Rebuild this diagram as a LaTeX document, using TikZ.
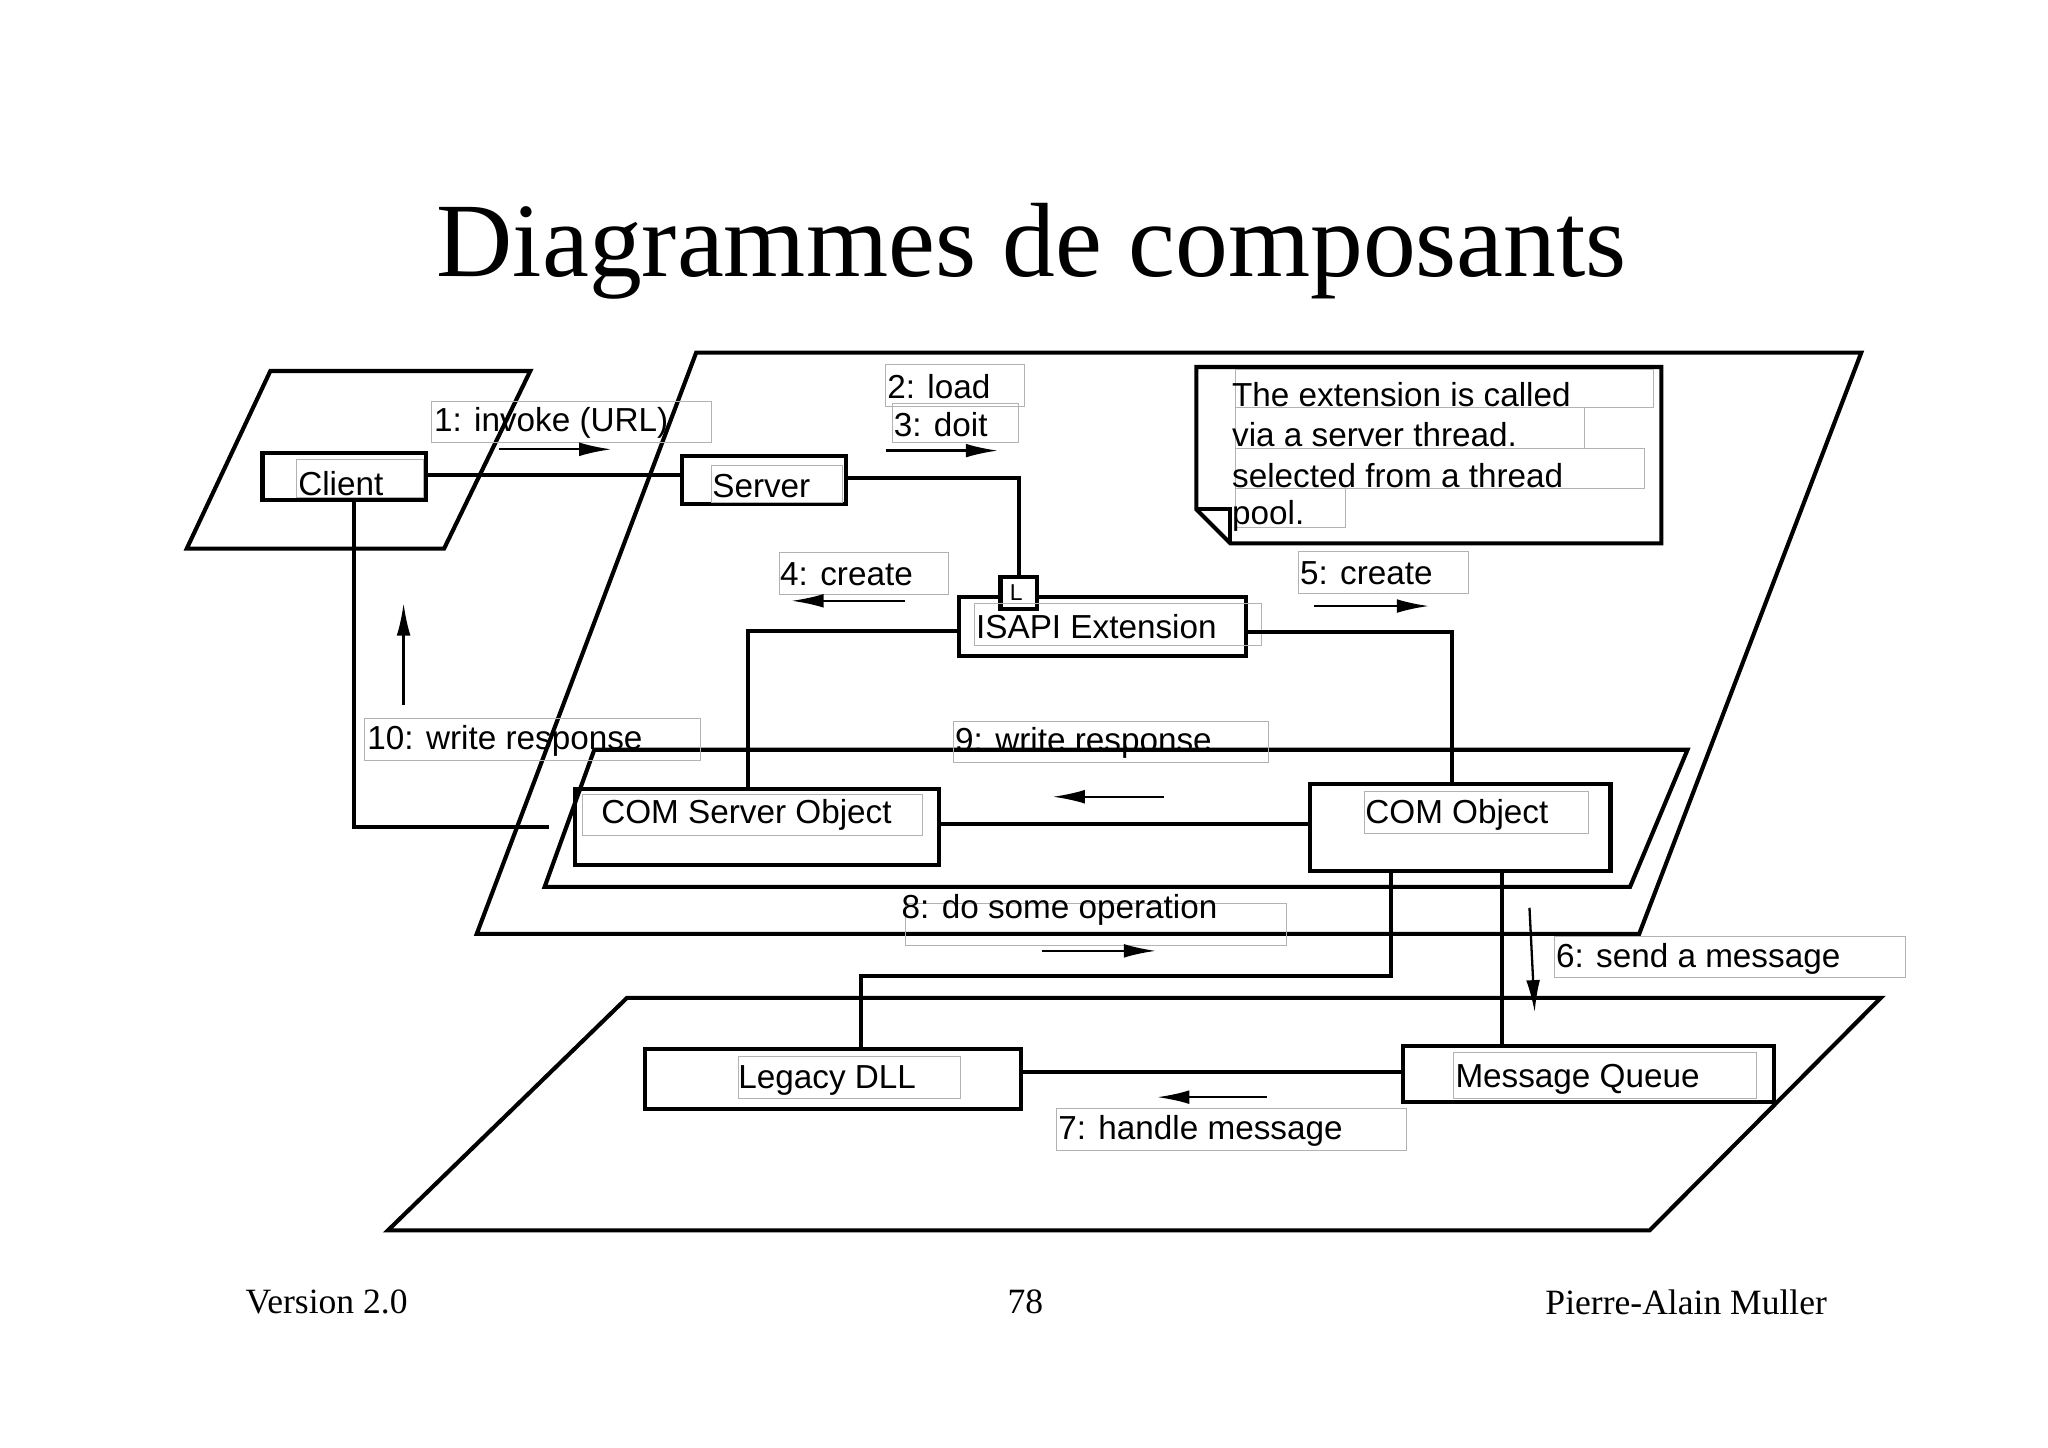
\documentclass[tikz,border=0pt]{standalone}
\usepackage{fontspec}
\setmainfont{Liberation Serif}
\newfontfamily\lab{Liberation Sans}
\usetikzlibrary{arrows.meta}
\begin{document}
\begin{tikzpicture}[x=0.02cm,y=-0.02cm,
 thick line/.style={line width=1.8pt,line join=miter},
 conn/.style={line width=1.8pt},
 gbox/.style={draw=black!30,line width=0.4pt},
 lt/.style={font=\lab\fontsize{14.5}{17}\selectfont,anchor=west,inner sep=0pt},
 arr/.style={line width=1pt,-{Latex[length=14pt,width=6pt]}}]
\useasboundingbox (0,0) rectangle (1568,1108);
\node[font=\fontsize{46}{52}\selectfont] (title) at (790,192) {Diagrammes de composants};
% packages
\draw[thick line] (207,284)--(406,284)--(340,420)--(143,420)--cycle;
\draw[thick line] (533,270)--(1425,270)--(1255,715)--(365,715)--cycle;
\draw[thick line] (455,574)--(1292,574)--(1248,679)--(417,679)--cycle;
\draw[thick line] (480,764)--(1440,764)--(1263,942)--(297,942)--cycle;
% note
\draw[thick line] (916,281)--(1272,281)--(1272,416)--(942,416)--(916,390)--cycle;
\draw[thick line] (916,390)--(942,390)--(942,416);
\draw[gbox] (946,283) rectangle (1266,312);
\draw[gbox] (946,312) rectangle (1213,343);
\draw[gbox] (946,343) rectangle (1259,374);
\draw[gbox] (946,374) rectangle (1030,404);
\node[lt] (n1) at (943,302) {The extension is called};
\node[lt] (n2) at (943,333) {via a server thread.};
\node[lt] (n3) at (943,364) {selected from a thread};
\node[lt] (n4) at (943,395) {pool.};
% component boxes
\draw[thick line] (201,347) rectangle (326,383);
\draw[thick line] (522,349) rectangle (648,386);
\draw[thick line] (734,457) rectangle (954,502);
\draw[thick line,fill=white] (766,442) rectangle (794,466);
\node[font=\lab\fontsize{10}{12}\selectfont] (L) at (778,454) {L};
\draw[thick line] (440,604) rectangle (719,662);
\draw[thick line] (1003,600) rectangle (1233,667);
\draw[thick line] (494,803) rectangle (782,849);
\draw[thick line] (1074,801) rectangle (1358,844);
\draw[gbox] (227,352) rectangle (324,381); \node[lt] (c) at (228,370) {Client};
\draw[gbox] (545,356) rectangle (645,385); \node[lt] (s) at (545,372) {Server};
\draw[gbox] (746,462) rectangle (966,494); \node[lt] (i) at (747,480) {ISAPI Extension};
\draw[gbox] (446,608) rectangle (706,640); \node[lt] (cs) at (460,624) {COM Server Object};
\draw[gbox] (1045,606) rectangle (1216,638); \node[lt] (co) at (1045,624) {COM Object};
\draw[gbox] (565,809) rectangle (735,841); \node[lt] (ld) at (565,827) {Legacy DLL};
\draw[gbox] (1113,806) rectangle (1345,841); \node[lt] (mq) at (1114,826) {Message Queue};
% connectors
\draw[conn] (326,364)--(522,364);
\draw[conn] (648,366)-|(780,442);
\draw[conn] (734,483)-|(573,604);
\draw[conn] (954,484)-|(1112,600);
\draw[conn] (271,383)|-(420,633);
\draw[conn] (719,631)--(1003,631);
\draw[conn] (1065,667)|-(659,747)--(659,803);
\draw[conn] (1150,667)--(1150,801);
\draw[conn] (782,821)--(1074,821);
% message labels
\draw[gbox] (330,307) rectangle (545,339); \node[lt] (m1) at (332,324) {1: invoke (URL)};
\draw[gbox] (678,279) rectangle (784,311); \node[lt] (m2) at (679,296) {2: load};
\draw[gbox] (683,309) rectangle (780,339); \node[lt] (m3) at (684,325) {3: doit};
\draw[gbox] (597,423) rectangle (726,455); \node[lt] (m4) at (597,440) {4: create};
\draw[gbox] (994,422) rectangle (1124,454); \node[lt] (m5) at (995,439) {5: create};
\draw[gbox] (279,550) rectangle (536,582); \node[lt] (m10) at (281,567) {10: write response};
\draw[gbox] (730,552) rectangle (971,584); \node[lt] (m9) at (731,569) {9: write response};
\draw[gbox] (693,692) rectangle (985,724); \node[lt] (m8) at (690,697) {8: do some operation};
\draw[gbox] (1190,717) rectangle (1459,748); \node[lt] (m6) at (1191,734) {6: send a message};
\draw[gbox] (809,849) rectangle (1077,881); \node[lt] (m7) at (810,866) {7: handle message};
% arrows
\draw[arr] (382,344)--(468,344);
\draw[arr] (678,345)--(764,345);
\draw[arr] (693,460)--(606,460);
\draw[arr] (1006,464)--(1094,464);
\draw[arr] (309,540)--(309,462);
\draw[arr] (891,610)--(806,610);
\draw[arr] (798,728)--(885,728);
\draw[arr] (1171,695)--(1175,775);
\draw[arr] (970,840)--(886,840);
% footer
\node[font=\fontsize{15.5}{18}\selectfont] (f1) at (250,997) {Version 2.0};
\node[font=\fontsize{15.5}{18}\selectfont] (f2) at (785,997) {78};
\node[font=\fontsize{15.5}{18}\selectfont] (f3) at (1291,997) {Pierre-Alain Muller};
\end{tikzpicture}
\end{document}
